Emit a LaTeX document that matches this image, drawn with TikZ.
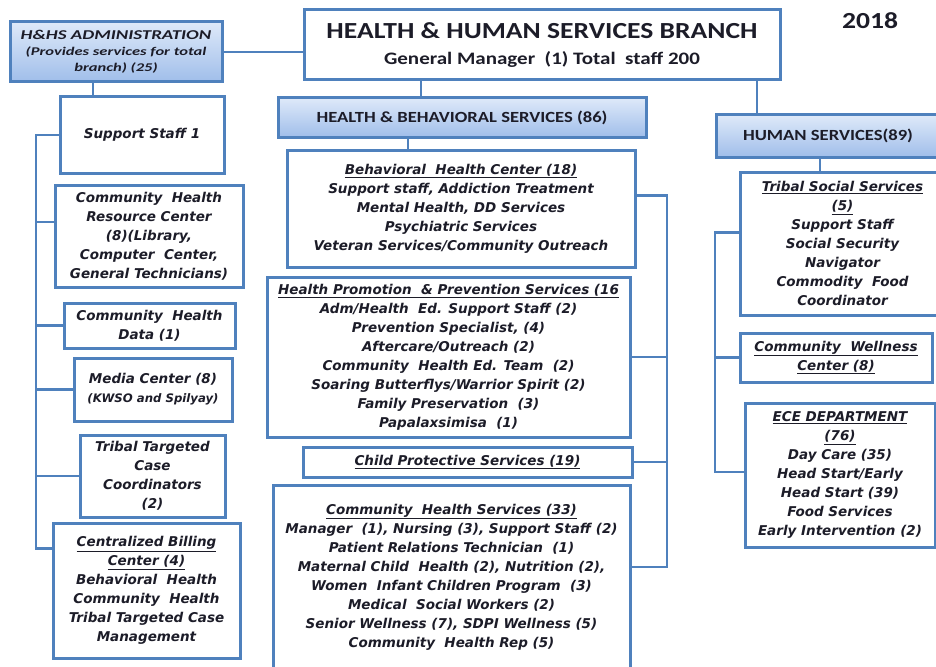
\documentclass[tikz,border=0pt]{standalone}
\usepackage{fontspec}
\setmainfont{DejaVu Sans}
\newfontfamily\hdrfont[FakeStretch=1.2]{Carlito}
\newfontfamily\adminfont[FakeStretch=1.4]{Carlito}
\usepackage{xcolor}
\usepackage{tikz}

\definecolor{linkblue}{RGB}{79,129,189}
\definecolor{hdrtop}{RGB}{222,233,249}
\definecolor{hdrbot}{RGB}{160,190,234}
\definecolor{inkdark}{RGB}{28,28,40}

\begin{document}
\begin{tikzpicture}[x=1pt,y=-1pt,
    box/.style={draw=linkblue, line width=3pt, fill=white, inner sep=0pt, align=center, text=inkdark},
    hdrbox/.style={box, top color=hdrtop, bottom color=hdrbot},
    unit/.style={box, font=\bfseries\itshape\fontsize{13.5}{19}\selectfont},
    link/.style={linkblue, line width=2.5pt, line cap=rect}]

    \path[use as bounding box, fill=white] (0,0) rectangle (936,666);
    \clip (0,0) rectangle (936,666);

    % top of the branch
    \node[box, minimum width=476pt, minimum height=70pt,
          font=\hdrfont\bfseries\fontsize{17.5}{26}\selectfont] (main) at (542,45)
          {{\fontsize{23}{26}\selectfont HEALTH \& HUMAN SERVICES BRANCH}\\General Manager\ \ (1) Total\ \ staff 200};
    \node[font=\hdrfont\bfseries\fontsize{23}{28}\selectfont, text=inkdark] (year) at (870,21) {2018};
    \node[hdrbox, minimum width=212pt, minimum height=60pt,
          font=\adminfont\bfseries\itshape\fontsize{11.8}{16}\selectfont] (admin) at (116,52)
          {{\fontsize{13.5}{16}\selectfont H\&HS ADMINISTRATION}\\(Provides services for total\\branch) (25)};
    \node[hdrbox, minimum width=368pt, minimum height=39pt,
          font=\hdrfont\bfseries\fontsize{15.5}{16}\selectfont] (hbs) at (462,117.5)
          {HEALTH \& BEHAVIORAL SERVICES (86)};
    \node[hdrbox, minimum width=224pt, minimum height=42pt,
          font=\hdrfont\bfseries\fontsize{15.5}{16}\selectfont] (hs) at (828,136)
          {HUMAN SERVICES(89)};

    % administration column
    \node[unit, minimum width=164pt, minimum height=76pt] (sup) at (142,135) {Support Staff 1};
    \node[unit, minimum width=188pt, minimum height=102pt] (chrc) at (149,236)
          {Community\ \ Health\\Resource Center\\(8)(Library,\\Computer\ \ Center,\\General Technicians)};
    \node[unit, minimum width=171pt, minimum height=45pt] (chd) at (149.5,325.5)
          {Community\ \ Health\\Data (1)};
    \node[unit, minimum width=158pt, minimum height=63pt] (media) at (153,389.5)
          {Media Center (8)\\{\fontsize{11.7}{19}\selectfont (KWSO and Spilyay)}};
    \node[unit, minimum width=145pt, minimum height=82pt] (ttc) at (152.5,476)
          {Tribal Targeted\\Case\\Coordinators\\(2)};
    \node[unit, minimum width=187pt, minimum height=135pt] (cbc) at (146.5,590.5)
          {\underline{Centralized Billing}\\\underline{Center (4)}\\Behavioral\ \ Health\\Community\ \ Health\\Tribal Targeted Case\\Management};

    % health & behavioral services column
    \node[unit, minimum width=348pt, minimum height=117pt] (bhc) at (461,208.5)
          {\underline{Behavioral\ \ Health Center (18)}\\Support staff, Addiction Treatment\\Mental Health, DD Services\\Psychiatric Services\\Veteran Services/Community Outreach};
    \node[unit, minimum width=363pt, minimum height=160pt] (hpps) at (448.5,357)
          {\underline{Health Promotion\ \ \& Prevention Services (16}\\Adm/Health\ \ Ed. Support Staff (2)\\Prevention Specialist, (4)\\Aftercare/Outreach (2)\\Community\ \ Health Ed. Team\ \ (2)\\Soaring Butterflys/Warrior Spirit (2)\\Family Preservation\ \ (3)\\Papalaxsimisa\ \ (1)};
    \node[unit, minimum width=329pt, minimum height=30pt] (cps) at (467.5,462)
          {\underline{Child Protective Services (19)}};
    \node[unit, minimum width=357pt, minimum height=184pt] (chs) at (451.5,577)
          {\underline{Community\ \ Health Services (33)}\\Manager\ \ (1), Nursing (3), Support Staff (2)\\Patient Relations Technician\ \ (1)\\Maternal Child\ \ Health (2), Nutrition (2),\\Women\ \ Infant Children Program\ \ (3)\\Medical\ \ Social Workers (2)\\Senior Wellness (7), SDPI Wellness (5)\\Community\ \ Health Rep (5)};

    % human services column
    \node[unit, minimum width=205pt, minimum height=143pt] (tss) at (842.5,243.5)
          {\underline{Tribal Social Services}\\\underline{(5)}\\Support Staff\\Social Security\\Navigator\\Commodity\ \ Food\\Coordinator};
    \node[unit, minimum width=192pt, minimum height=49pt] (cwc) at (836,357.5)
          {\underline{Community\ \ Wellness}\\\underline{Center (8)}};
    \node[unit, minimum width=190pt, minimum height=144pt] (ece) at (840,475)
          {\underline{ECE DEPARTMENT}\\\underline{(76)}\\Day Care (35)\\Head Start/Early\\Head Start (39)\\Food Services\\Early Intervention (2)};

    % spines
    \coordinate (lspine) at (36,0);
    \coordinate (cspine) at (667,0);
    \coordinate (rspine) at (715,0);

    % branch links
    \draw[link] (admin.east) -- (admin.east -| main.west);
    \draw[link] ([xshift=-23pt]admin.south) -- ([xshift=-23pt]admin.south |- sup.north);
    \draw[link] ([xshift=-41pt]hbs.north) -- ([xshift=-41pt]hbs.north |- main.south);
    \draw[link] ([xshift=-71pt]hs.north) -- ([xshift=-71pt]hs.north |- main.south);
    \draw[link] ([xshift=-54pt]hbs.south) -- ([xshift=-54pt]hbs.south |- bhc.north);
    \draw[link] ([xshift=-8pt]hs.south) -- ([xshift=-8pt]hs.south |- tss.north);

    % left column
    \draw[link] (sup.west -| lspine) -- ([yshift=42pt]cbc.west -| lspine);
    \foreach \n/\dy in {sup/0, chrc/14, chd/0, media/0, ttc/0, cbc/42}
        \draw[link] ([yshift=\dy pt]\n.west) -- ([yshift=\dy pt]\n.west -| lspine);

    % centre column
    \draw[link] ([yshift=13pt]bhc.east -| cspine) -- ([yshift=10pt]chs.east -| cspine);
    \foreach \n/\dy in {bhc/13, hpps/0, cps/0, chs/10}
        \draw[link] ([yshift=\dy pt]\n.east) -- ([yshift=\dy pt]\n.east -| cspine);

    % right column
    \draw[link] ([yshift=11pt]tss.west -| rspine) -- ([yshift=3pt]ece.west -| rspine);
    \foreach \n/\dy in {tss/11, cwc/0, ece/3}
        \draw[link] ([yshift=\dy pt]\n.west) -- ([yshift=\dy pt]\n.west -| rspine);
\end{tikzpicture}
\end{document}
